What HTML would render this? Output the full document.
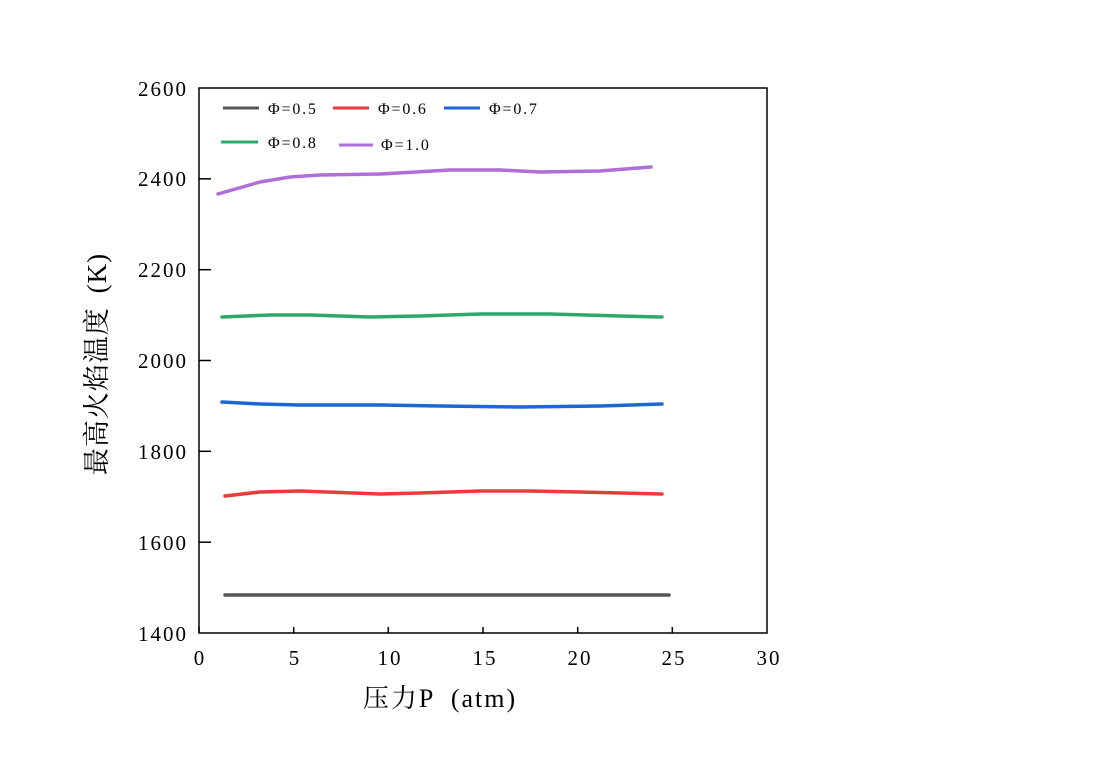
<!DOCTYPE html>
<html><head><meta charset="utf-8"><style>
html,body{margin:0;padding:0;background:#fff;}
text{font-family:"Liberation Serif","Noto Serif CJK SC",serif;fill:#000;}
</style></head><body>
<svg width="1111" height="760" xmlns="http://www.w3.org/2000/svg">
<rect x="199" y="88" width="568" height="545" fill="none" stroke="#000" stroke-width="1.5"/>
<g stroke="#000" stroke-width="1.5">
<line x1="199" y1="633" x2="199" y2="627"/><line x1="293.7" y1="633" x2="293.7" y2="627"/><line x1="388.3" y1="633" x2="388.3" y2="627"/><line x1="483" y1="633" x2="483" y2="627"/><line x1="577.7" y1="633" x2="577.7" y2="627"/><line x1="672.3" y1="633" x2="672.3" y2="627"/>
<line x1="199" y1="542.2" x2="211" y2="542.2"/><line x1="199" y1="451.3" x2="211" y2="451.3"/><line x1="199" y1="360.5" x2="211" y2="360.5"/><line x1="199" y1="269.7" x2="211" y2="269.7"/><line x1="199" y1="178.8" x2="211" y2="178.8"/>
</g>
<g font-size="21" text-anchor="end" letter-spacing="2">
<text x="188" y="641">1400</text><text x="188" y="550">1600</text><text x="188" y="459">1800</text><text x="188" y="368">2000</text><text x="188" y="277">2200</text><text x="188" y="186">2400</text><text x="188" y="96">2600</text>
</g>
<g font-size="21" text-anchor="middle" letter-spacing="2">
<text x="200" y="665">0</text><text x="295" y="665">5</text><text x="390" y="665">10</text><text x="485" y="665">15</text><text x="580" y="665">20</text><text x="674" y="665">25</text><text x="769" y="665">30</text>
</g>
<text x="440" y="707" font-size="26" text-anchor="middle" letter-spacing="2" word-spacing="8">压力P (atm)</text>
<text transform="translate(106,364) rotate(-90)" font-size="27" text-anchor="middle" letter-spacing="1" word-spacing="6">最高火焰温度 (K)</text>
<g fill="none" stroke-width="3.5" stroke-linecap="round" stroke-linejoin="round">
<polyline stroke="#555" points="225,595 669,595"/>
<polyline stroke="#ea3a3a" points="225,496 260,492 300,491 380,494 420,493 480,491 530,491 580,492 662,494"/>
<polyline stroke="#1c66d6" points="222,402 260,404 300,405 380,405 440,406 520,407 600,406 662,404"/>
<polyline stroke="#2ea86a" points="222,317 270,315 310,315 370,317 420,316 480,314 550,314 620,316 662,317"/>
<polyline stroke="#b06ed8" points="218,194 260,182 290,177 320,175 380,174 450,170 500,170 540,172 600,171 651,167"/>
</g>
<g stroke-width="3">
<line x1="223" y1="108" x2="259" y2="108" stroke="#555"/>
<line x1="333" y1="108" x2="369" y2="108" stroke="#ea3a3a"/>
<line x1="444" y1="108" x2="480" y2="108" stroke="#1c66d6"/>
<line x1="221" y1="142" x2="258" y2="142" stroke="#2ea86a"/>
<line x1="339" y1="145" x2="373" y2="145" stroke="#b06ed8"/>
</g>
<g font-size="16" letter-spacing="1.8">
<text x="268" y="114">Φ=0.5</text><text x="378" y="114">Φ=0.6</text><text x="489" y="114">Φ=0.7</text>
<text x="268" y="148">Φ=0.8</text><text x="381" y="150">Φ=1.0</text>
</g>
</svg>
</body></html>
